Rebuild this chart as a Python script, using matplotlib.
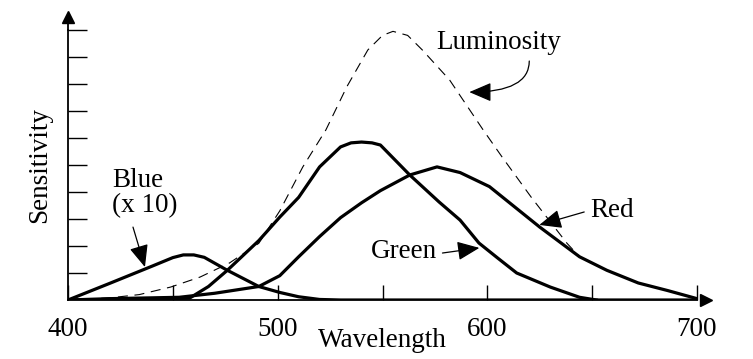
import matplotlib.pyplot as plt

# values (sensitivity in tick units, 0..10)
blue_wl = [400, 420, 440, 450, 455, 460, 465, 476, 491, 501, 510, 520, 530, 700]
blue_val = [0, 0.62, 1.25, 1.57, 1.67, 1.67, 1.58, 1.1, 0.5, 0.28, 0.12, 0.02, 0, 0]

green_wl = [400, 440, 458, 467, 476, 491, 501, 510, 520, 530, 535, 540, 545, 549,
            563, 577, 587, 596, 605, 614, 630, 644, 652]
green_val = [0, 0.02, 0.07, 0.5, 1.1, 2.2, 3.07, 3.8, 4.93, 5.67, 5.82, 5.85, 5.82, 5.74,
             4.63, 3.63, 2.96, 2.11, 1.55, 1.0, 0.48, 0.1, 0]

red_wl = [400, 420, 440, 453, 470, 491, 501, 510, 520, 530, 540, 549, 563, 576, 587,
          601, 613, 625, 644, 657, 672, 686, 700]
red_val = [0, 0.05, 0.08, 0.1, 0.25, 0.5, 0.9, 1.6, 2.35, 3.05, 3.6, 4.05, 4.63, 4.93, 4.72,
           4.2, 3.45, 2.7, 1.6, 1.1, 0.63, 0.35, 0.05]

lum_wl = [400, 420, 434, 449, 463, 477, 491, 501, 512, 523, 533, 543, 550, 555, 562, 569,
          582, 598, 607, 621, 630, 638, 644, 657, 672, 686, 700]
lum_val = [0, 0.08, 0.2, 0.48, 0.85, 1.37, 2.1, 3.3, 4.93, 6.3, 7.9, 9.26, 9.8, 9.95, 9.8, 9.26,
           8.15, 6.3, 5.3, 3.8, 2.9, 2.1, 1.6, 1.1, 0.63, 0.35, 0.05]

x_major = [400, 500, 600, 700]
x_minor = [450, 550, 650]
y_ticks = list(range(1, 11))

plt.rcParams['font.family'] = ['Liberation Serif', 'DejaVu Serif']
plt.rcParams['font.size'] = 19.5

fig = plt.figure(figsize=(7.53, 3.59), dpi=100)
ax = fig.add_axes([68 / 753, 59 / 359, 629 / 753, 270 / 359])

ax.plot(lum_wl, lum_val, color='black', lw=0.8, dashes=(9, 6))
ax.plot(blue_wl, blue_val, color='black', lw=2.3, solid_joinstyle='round')
ax.plot(green_wl, green_val, color='black', lw=2.3, solid_joinstyle='round')
ax.plot(red_wl, red_val, color='black', lw=2.3, solid_joinstyle='round')

ax.set_xlim(400, 700)
ax.set_ylim(0, 10)
for side in ['top', 'right']:
    ax.spines[side].set_visible(False)
for side in ['left', 'bottom']:
    ax.spines[side].set_linewidth(1.3)

ax.set_xticks(x_major)
ax.set_xticks(x_minor, minor=True)
ax.set_xticklabels([str(v) for v in x_major])
ax.tick_params(axis='x', which='both', direction='in', length=11, width=1, pad=12)
ax.set_yticks(y_ticks)
ax.set_yticklabels([])
ax.tick_params(axis='y', direction='in', length=14, width=1)

# axis arrowheads
ax.plot([0, 0], [1, 1.05], color='black', lw=1.3, transform=ax.transAxes, clip_on=False)
ax.plot(0, 1.05, marker='^', color='black', markersize=9, transform=ax.transAxes, clip_on=False)
ax.plot(1.015, 0, marker='>', color='black', markersize=9, transform=ax.transAxes, clip_on=False)

ax.set_ylabel('Sensitivity', labelpad=8)
ax.text(550, -1.5, 'Wavelength', ha='center', va='center')

arrow = dict(arrowstyle='-|>,head_length=0.7,head_width=0.3', color='black', lw=0.9, shrinkA=0, shrinkB=0)

ax.text(605.5, 9.55, 'Luminosity', ha='center', va='center')
ax.annotate('', xy=(591.4, 7.7), xytext=(620, 8.85),
            arrowprops=dict(arrow, connectionstyle='angle3,angleA=90,angleB=0'))

ax.text(421, 4.44, 'Blue', ha='left', va='center')
ax.text(421, 3.48, '(x 10)', ha='left', va='center')
ax.annotate('', xy=(436.7, 1.22), xytext=(431, 2.7), arrowprops=arrow)

ax.text(560, 1.78, 'Green', ha='center', va='center')
ax.annotate('', xy=(596.2, 1.93), xytext=(578.6, 1.74), arrowprops=arrow)

ax.text(659.5, 3.33, 'Red', ha='center', va='center')
ax.annotate('', xy=(624.8, 2.78), xytext=(646.2, 3.26), arrowprops=arrow)

fig.savefig('out.png', dpi=100)
